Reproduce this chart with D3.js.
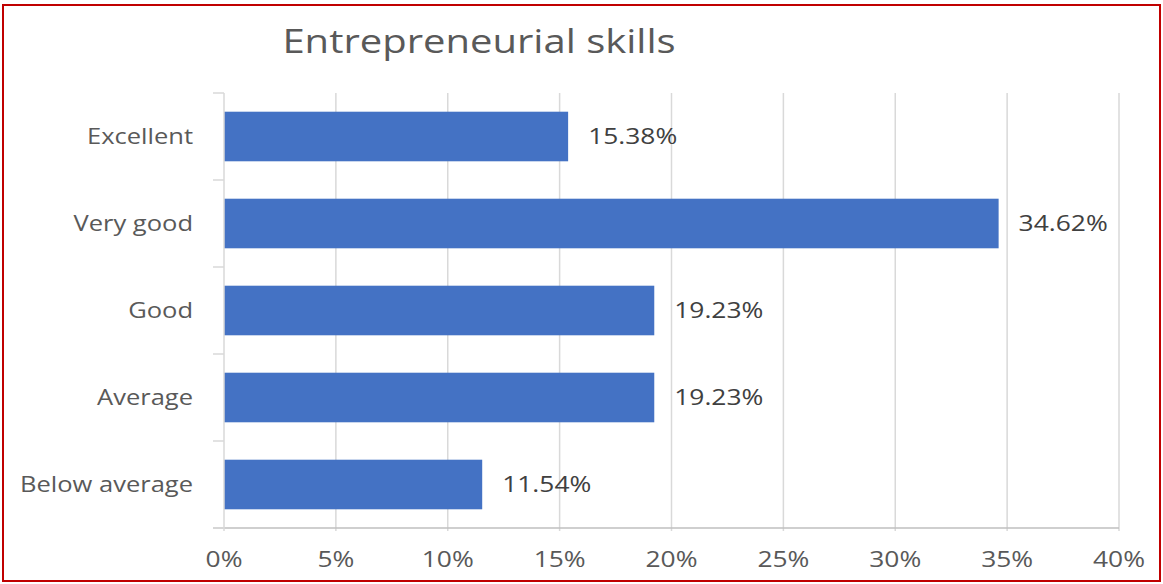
<!DOCTYPE html>
<html><head><meta charset="utf-8">
<script src="https://cdn.jsdelivr.net/npm/d3@7"></script>
<style>
html,body{margin:0;padding:0;background:#fff;}
svg{display:block;font-family:"Open Sans","Noto Sans",sans-serif;}
</style></head>
<body><svg id="c" width="1163" height="584"></svg>
<script>
const categories = ["Excellent","Very good","Good","Average","Below average"];
const values = [15.38, 34.62, 19.23, 19.23, 11.54];
const xTicks = [0,5,10,15,20,25,30,35,40];
const title = "Entrepreneurial skills";

(function(){
const svg = d3.select("#c");
svg.append("rect").attr("x",3).attr("y",5).attr("width",1157).attr("height",576)
  .attr("fill","#fff").attr("stroke","#c00000").attr("stroke-width",2);

const pL = 224, pR = 1119, pT = 93, pB = 528;
const SX = 1.2;
const x = d3.scaleLinear().domain([0,40]).range([pL,pR]);
const y = d3.scaleBand().domain(categories).range([pT,pB]).paddingInner(0.43).paddingOuter(0.215);

svg.append("g").selectAll("line").data(xTicks.slice(1)).join("line")
  .attr("x1",d=>x(d)).attr("x2",d=>x(d)).attr("y1",pT).attr("y2",pB+3)
  .attr("stroke","#d9d9d9").attr("stroke-width",1.5);

svg.append("g").selectAll("rect").data(values).join("rect")
  .attr("x",x(0)).attr("y",(d,i)=>y(categories[i]))
  .attr("width",d=>x(d)-x(0)).attr("height",y.bandwidth())
  .attr("fill","#4472c4");

svg.append("line").attr("x1",pL-11).attr("x2",pR).attr("y1",pB).attr("y2",pB)
  .attr("stroke","#bfbfbf").attr("stroke-width",1.5);
svg.append("line").attr("x1",pL).attr("x2",pL).attr("y1",pT).attr("y2",pB+3)
  .attr("stroke","#d9d9d9").attr("stroke-width",1.5);
const bounds = d3.range(categories.length+1).map(i=>pT+i*(pB-pT)/categories.length);
svg.append("g").selectAll("line").data(bounds).join("line")
  .attr("x1",pL-11).attr("x2",pL).attr("y1",d=>d).attr("y2",d=>d)
  .attr("stroke","#d9d9d9").attr("stroke-width",1.5);

svg.append("g").selectAll("text").data(xTicks).join("text")
  .attr("transform",d=>`translate(${x(d)},567) scale(${SX},1)`).attr("text-anchor","middle")
  .attr("font-size",22).attr("fill","#595959").text(d=>d+"%");

svg.append("g").selectAll("text").data(categories).join("text")
  .attr("transform",d=>`translate(193,${y(d)+y.bandwidth()/2+7.5}) scale(1.16,1)`).attr("text-anchor","end")
  .attr("font-size",22).attr("fill","#595959").text(d=>d);

svg.append("g").selectAll("text").data(values).join("text")
  .attr("transform",(d,i)=>`translate(${x(d)+20},${y(categories[i])+y.bandwidth()/2+7.5}) scale(${SX},1)`)
  .attr("font-size",22).attr("fill","#404040").text(d=>d.toFixed(2)+"%");

svg.append("text").attr("transform","translate(479,53) scale(1.25,1)").attr("text-anchor","middle")
  .attr("font-size",32).attr("fill","#595959").text(title);
})();
</script></body></html>
